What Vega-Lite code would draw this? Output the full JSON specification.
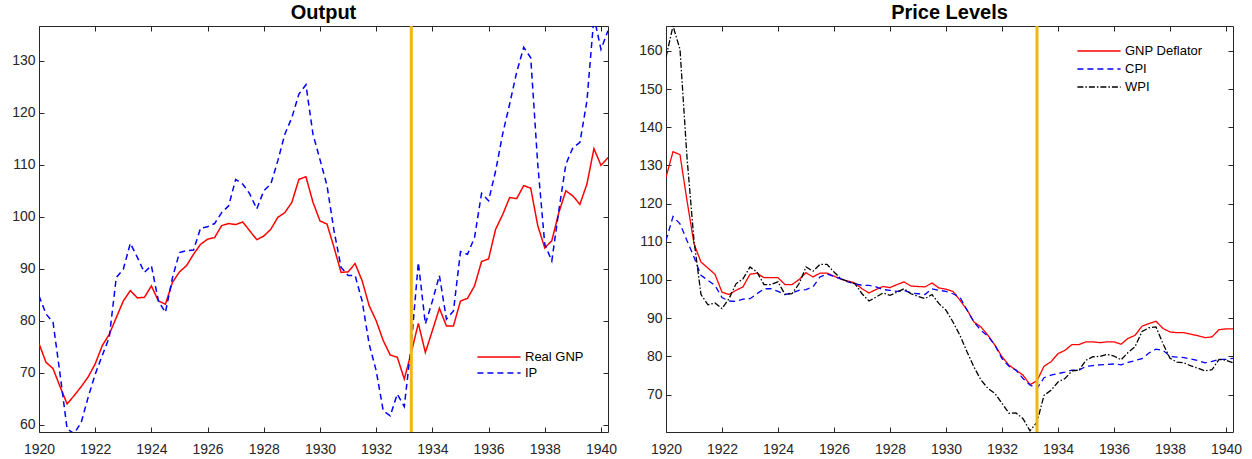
{
  "$schema": "https://vega.github.io/schema/vega-lite/v6.json",
  "padding": {"left": 8, "top": 2, "right": 5, "bottom": 0},
  "config": {
    "font": "Liberation Sans",
    "view": {"stroke": "#262626", "strokeWidth": 1},
    "axis": {"grid": false, "domain": false, "tickSize": -5, "tickColor": "#262626", "tickWidth": 1, "labelFontSize": 14, "labelColor": "#262626", "labelPadding": 9, "labelFlush": false, "title": null},
    "axisBottom": {"labelPadding": 15},
    "title": {"fontSize": 20, "fontWeight": "bold", "color": "#000000", "offset": 2, "font": "Liberation Sans"},
    "legend": {"title": null, "padding": 0, "labelFontSize": 13, "labelColor": "#000000", "symbolType": "M-3.6,0H3.6", "symbolSize": 144, "symbolStrokeWidth": 1.5, "labelOffset": 19}
  },
  "datasets": {
    "series": [
      {"t": 1920.00, "Real GNP": 75.6, "IP": 84.8, "GNP Deflator": 126.9, "CPI": 110.3, "WPI": 158.3},
      {"t": 1920.25, "Real GNP": 72.0, "IP": 81.3, "GNP Deflator": 133.6, "CPI": 116.6, "WPI": 166.5},
      {"t": 1920.50, "Real GNP": 70.8, "IP": 79.7, "GNP Deflator": 132.8, "CPI": 114.7, "WPI": 160.4},
      {"t": 1920.75, "Real GNP": 67.3, "IP": 69.7, "GNP Deflator": 120.8, "CPI": 110.3, "WPI": 132.1},
      {"t": 1921.00, "Real GNP": 64.0, "IP": 59.2, "GNP Deflator": 109.5, "CPI": 106.0, "WPI": 110.3},
      {"t": 1921.25, "Real GNP": 65.6, "IP": 58.3, "GNP Deflator": 104.7, "CPI": 101.2, "WPI": 96.2},
      {"t": 1921.50, "Real GNP": 67.3, "IP": 60.4, "GNP Deflator": 103.1, "CPI": 99.9, "WPI": 93.5},
      {"t": 1921.75, "Real GNP": 69.2, "IP": 65.3, "GNP Deflator": 101.5, "CPI": 98.6, "WPI": 94.0},
      {"t": 1922.00, "Real GNP": 71.7, "IP": 69.7, "GNP Deflator": 96.8, "CPI": 95.4, "WPI": 92.5},
      {"t": 1922.25, "Real GNP": 75.2, "IP": 73.3, "GNP Deflator": 96.2, "CPI": 94.5, "WPI": 95.1},
      {"t": 1922.50, "Real GNP": 77.4, "IP": 76.8, "GNP Deflator": 97.3, "CPI": 94.4, "WPI": 99.0},
      {"t": 1922.75, "Real GNP": 80.6, "IP": 88.3, "GNP Deflator": 98.2, "CPI": 95.0, "WPI": 100.3},
      {"t": 1923.00, "Real GNP": 83.8, "IP": 89.9, "GNP Deflator": 101.5, "CPI": 95.1, "WPI": 103.4},
      {"t": 1923.25, "Real GNP": 85.8, "IP": 94.9, "GNP Deflator": 101.8, "CPI": 96.4, "WPI": 102.1},
      {"t": 1923.50, "Real GNP": 84.4, "IP": 92.2, "GNP Deflator": 100.6, "CPI": 97.7, "WPI": 98.8},
      {"t": 1923.75, "Real GNP": 84.5, "IP": 89.3, "GNP Deflator": 100.6, "CPI": 97.7, "WPI": 98.8},
      {"t": 1924.00, "Real GNP": 86.7, "IP": 90.6, "GNP Deflator": 100.6, "CPI": 97.0, "WPI": 99.5},
      {"t": 1924.25, "Real GNP": 83.8, "IP": 83.8, "GNP Deflator": 98.8, "CPI": 96.2, "WPI": 96.2},
      {"t": 1924.50, "Real GNP": 83.2, "IP": 81.6, "GNP Deflator": 98.8, "CPI": 96.6, "WPI": 96.4},
      {"t": 1924.75, "Real GNP": 87.4, "IP": 88.3, "GNP Deflator": 100.1, "CPI": 97.3, "WPI": 99.0},
      {"t": 1925.00, "Real GNP": 89.4, "IP": 93.1, "GNP Deflator": 101.9, "CPI": 97.5, "WPI": 103.4},
      {"t": 1925.25, "Real GNP": 90.6, "IP": 93.5, "GNP Deflator": 100.8, "CPI": 98.2, "WPI": 102.3},
      {"t": 1925.50, "Real GNP": 92.8, "IP": 93.6, "GNP Deflator": 101.8, "CPI": 100.8, "WPI": 104.1},
      {"t": 1925.75, "Real GNP": 94.7, "IP": 97.8, "GNP Deflator": 101.8, "CPI": 101.6, "WPI": 104.1},
      {"t": 1926.00, "Real GNP": 95.7, "IP": 98.1, "GNP Deflator": 101.0, "CPI": 100.9, "WPI": 102.1},
      {"t": 1926.25, "Real GNP": 96.0, "IP": 98.7, "GNP Deflator": 100.2, "CPI": 100.3, "WPI": 100.3},
      {"t": 1926.50, "Real GNP": 98.3, "IP": 100.8, "GNP Deflator": 99.7, "CPI": 99.5, "WPI": 99.6},
      {"t": 1926.75, "Real GNP": 98.7, "IP": 102.1, "GNP Deflator": 99.2, "CPI": 99.0, "WPI": 99.0},
      {"t": 1927.00, "Real GNP": 98.5, "IP": 107.2, "GNP Deflator": 97.7, "CPI": 98.6, "WPI": 96.4},
      {"t": 1927.25, "Real GNP": 99.0, "IP": 106.3, "GNP Deflator": 96.6, "CPI": 98.6, "WPI": 94.5},
      {"t": 1927.50, "Real GNP": 97.3, "IP": 104.4, "GNP Deflator": 97.5, "CPI": 98.2, "WPI": 95.5},
      {"t": 1927.75, "Real GNP": 95.6, "IP": 101.5, "GNP Deflator": 98.3, "CPI": 97.5, "WPI": 96.6},
      {"t": 1928.00, "Real GNP": 96.3, "IP": 105.0, "GNP Deflator": 98.0, "CPI": 97.3, "WPI": 96.0},
      {"t": 1928.25, "Real GNP": 97.6, "IP": 106.3, "GNP Deflator": 98.8, "CPI": 97.0, "WPI": 96.8},
      {"t": 1928.50, "Real GNP": 99.9, "IP": 110.8, "GNP Deflator": 99.5, "CPI": 97.3, "WPI": 97.7},
      {"t": 1928.75, "Real GNP": 100.8, "IP": 115.9, "GNP Deflator": 98.4, "CPI": 96.6, "WPI": 96.4},
      {"t": 1929.00, "Real GNP": 102.8, "IP": 119.1, "GNP Deflator": 98.3, "CPI": 96.4, "WPI": 95.7},
      {"t": 1929.25, "Real GNP": 107.2, "IP": 123.6, "GNP Deflator": 98.2, "CPI": 96.2, "WPI": 95.1},
      {"t": 1929.50, "Real GNP": 107.7, "IP": 125.4, "GNP Deflator": 99.2, "CPI": 97.7, "WPI": 96.2},
      {"t": 1929.75, "Real GNP": 102.8, "IP": 115.9, "GNP Deflator": 97.9, "CPI": 97.3, "WPI": 93.8},
      {"t": 1930.00, "Real GNP": 99.2, "IP": 111.0, "GNP Deflator": 97.6, "CPI": 97.0, "WPI": 92.1},
      {"t": 1930.25, "Real GNP": 98.6, "IP": 106.0, "GNP Deflator": 97.0, "CPI": 96.4, "WPI": 89.0},
      {"t": 1930.50, "Real GNP": 94.1, "IP": 97.3, "GNP Deflator": 94.7, "CPI": 95.5, "WPI": 85.5},
      {"t": 1930.75, "Real GNP": 89.3, "IP": 90.3, "GNP Deflator": 92.2, "CPI": 92.1, "WPI": 81.2},
      {"t": 1931.00, "Real GNP": 89.4, "IP": 88.7, "GNP Deflator": 89.0, "CPI": 89.0, "WPI": 77.2},
      {"t": 1931.25, "Real GNP": 91.0, "IP": 88.7, "GNP Deflator": 87.7, "CPI": 86.8, "WPI": 73.8},
      {"t": 1931.50, "Real GNP": 87.7, "IP": 83.8, "GNP Deflator": 85.5, "CPI": 85.3, "WPI": 71.6},
      {"t": 1931.75, "Real GNP": 82.9, "IP": 75.5, "GNP Deflator": 82.9, "CPI": 82.9, "WPI": 70.3},
      {"t": 1932.00, "Real GNP": 80.0, "IP": 70.4, "GNP Deflator": 79.9, "CPI": 79.4, "WPI": 67.7},
      {"t": 1932.25, "Real GNP": 76.2, "IP": 62.7, "GNP Deflator": 77.7, "CPI": 77.4, "WPI": 65.1},
      {"t": 1932.50, "Real GNP": 73.4, "IP": 61.7, "GNP Deflator": 76.4, "CPI": 76.4, "WPI": 65.2},
      {"t": 1932.75, "Real GNP": 73.0, "IP": 65.9, "GNP Deflator": 75.1, "CPI": 74.2, "WPI": 63.7},
      {"t": 1933.00, "Real GNP": 68.8, "IP": 63.5, "GNP Deflator": 72.6, "CPI": 72.5, "WPI": 60.5},
      {"t": 1933.25, "Real GNP": 73.9, "IP": 75.5, "GNP Deflator": 73.6, "CPI": 71.6, "WPI": 62.8},
      {"t": 1933.50, "Real GNP": 79.5, "IP": 91.2, "GNP Deflator": 77.4, "CPI": 74.4, "WPI": 69.8},
      {"t": 1933.75, "Real GNP": 73.9, "IP": 79.4, "GNP Deflator": 78.6, "CPI": 75.1, "WPI": 71.1},
      {"t": 1934.00, "Real GNP": 78.1, "IP": 83.8, "GNP Deflator": 80.7, "CPI": 75.5, "WPI": 73.3},
      {"t": 1934.25, "Real GNP": 82.4, "IP": 88.7, "GNP Deflator": 81.6, "CPI": 75.9, "WPI": 74.2},
      {"t": 1934.50, "Real GNP": 79.0, "IP": 80.3, "GNP Deflator": 83.1, "CPI": 76.4, "WPI": 76.2},
      {"t": 1934.75, "Real GNP": 79.0, "IP": 81.9, "GNP Deflator": 83.1, "CPI": 76.4, "WPI": 76.4},
      {"t": 1935.00, "Real GNP": 83.8, "IP": 93.3, "GNP Deflator": 83.8, "CPI": 77.4, "WPI": 79.0},
      {"t": 1935.25, "Real GNP": 84.3, "IP": 92.8, "GNP Deflator": 83.8, "CPI": 77.6, "WPI": 79.9},
      {"t": 1935.50, "Real GNP": 86.7, "IP": 96.0, "GNP Deflator": 83.6, "CPI": 77.8, "WPI": 80.0},
      {"t": 1935.75, "Real GNP": 91.4, "IP": 104.5, "GNP Deflator": 83.8, "CPI": 77.9, "WPI": 80.5},
      {"t": 1936.00, "Real GNP": 91.9, "IP": 103.1, "GNP Deflator": 83.8, "CPI": 78.0, "WPI": 80.1},
      {"t": 1936.25, "Real GNP": 97.6, "IP": 108.8, "GNP Deflator": 83.2, "CPI": 77.8, "WPI": 79.1},
      {"t": 1936.50, "Real GNP": 100.4, "IP": 115.9, "GNP Deflator": 84.7, "CPI": 78.4, "WPI": 81.0},
      {"t": 1936.75, "Real GNP": 103.7, "IP": 121.7, "GNP Deflator": 85.5, "CPI": 78.9, "WPI": 82.5},
      {"t": 1937.00, "Real GNP": 103.5, "IP": 127.8, "GNP Deflator": 87.9, "CPI": 79.4, "WPI": 86.5},
      {"t": 1937.25, "Real GNP": 106.0, "IP": 132.6, "GNP Deflator": 88.6, "CPI": 80.9, "WPI": 87.5},
      {"t": 1937.50, "Real GNP": 105.5, "IP": 130.6, "GNP Deflator": 89.2, "CPI": 81.9, "WPI": 87.7},
      {"t": 1937.75, "Real GNP": 98.3, "IP": 110.1, "GNP Deflator": 87.3, "CPI": 81.6, "WPI": 83.3},
      {"t": 1938.00, "Real GNP": 94.0, "IP": 94.7, "GNP Deflator": 86.4, "CPI": 80.0, "WPI": 79.5},
      {"t": 1938.25, "Real GNP": 95.4, "IP": 91.5, "GNP Deflator": 86.2, "CPI": 79.8, "WPI": 78.5},
      {"t": 1938.50, "Real GNP": 100.8, "IP": 101.2, "GNP Deflator": 86.2, "CPI": 79.7, "WPI": 78.3},
      {"t": 1938.75, "Real GNP": 105.0, "IP": 110.1, "GNP Deflator": 85.8, "CPI": 79.3, "WPI": 77.5},
      {"t": 1939.00, "Real GNP": 104.0, "IP": 113.3, "GNP Deflator": 85.4, "CPI": 78.9, "WPI": 76.9},
      {"t": 1939.25, "Real GNP": 102.4, "IP": 114.3, "GNP Deflator": 84.9, "CPI": 78.3, "WPI": 76.2},
      {"t": 1939.50, "Real GNP": 106.3, "IP": 122.3, "GNP Deflator": 85.1, "CPI": 78.7, "WPI": 76.5},
      {"t": 1939.75, "Real GNP": 113.1, "IP": 138.5, "GNP Deflator": 87.0, "CPI": 79.2, "WPI": 79.2},
      {"t": 1940.00, "Real GNP": 109.9, "IP": 132.2, "GNP Deflator": 87.2, "CPI": 79.2, "WPI": 79.0},
      {"t": 1940.25, "Real GNP": 111.4, "IP": 135.8, "GNP Deflator": 87.2, "CPI": 79.5, "WPI": 78.3}
    ],
    "marker": [{"t": 1933.25}]
  },
  "spacing": 13,
  "resolve": {"scale": {"color": "independent", "strokeDash": "independent"}, "legend": {"color": "independent", "strokeDash": "independent"}},
  "hconcat": [
    {
      "title": "Output",
      "width": 569,
      "height": 406,
      "data": {"name": "series"},
      "transform": [{"fold": ["Real GNP", "IP"], "as": ["series", "value"]}],
      "layer": [
        {
          "mark": {"type": "line", "strokeWidth": 1.5, "clip": true},
          "encoding": {
            "x": {"field": "t", "type": "quantitative", "scale": {"domain": [1920, 1940.25], "nice": false, "zero": false},
                  "axis": {"orient": "bottom", "values": [1920, 1922, 1924, 1926, 1928, 1930, 1932, 1934, 1936, 1938, 1940], "format": "d"}},
            "y": {"field": "value", "type": "quantitative", "scale": {"domain": [58.6, 136.7], "nice": false, "zero": false},
                  "axis": {"orient": "left", "values": [60, 70, 80, 90, 100, 110, 120, 130], "minExtent": 30, "maxExtent": 30}},
            "color": {"field": "series", "type": "nominal", "scale": {"domain": ["Real GNP", "IP"], "range": ["#ff0000", "#0000ff"]},
                      "legend": {"orient": "none", "legendX": 453, "legendY": 324, "rowPadding": 2}},
            "strokeDash": {"field": "series", "type": "nominal", "scale": {"domain": ["Real GNP", "IP"], "range": [[1, 0], [6, 4]]},
                           "legend": {"orient": "none", "legendX": 453, "legendY": 324, "rowPadding": 2}}
          }
        },
        {
          "mark": {"type": "point", "opacity": 0, "clip": true},
          "encoding": {
            "x": {"field": "t", "type": "quantitative", "axis": {"orient": "top", "labels": false, "values": [1920, 1922, 1924, 1926, 1928, 1930, 1932, 1934, 1936, 1938, 1940], "maxExtent": 0}},
            "y": {"field": "value", "type": "quantitative", "axis": {"orient": "right", "labels": false, "values": [60, 70, 80, 90, 100, 110, 120, 130], "maxExtent": 0, "minExtent": 0}}
          }
        },
        {
          "data": {"name": "marker"},
          "mark": {"type": "rule", "color": "#EBB815", "strokeWidth": 3},
          "encoding": {"x": {"field": "t", "type": "quantitative", "axis": null}}
        }
      ],
      "resolve": {"axis": {"x": "independent", "y": "independent"}}
    },
    {
      "title": "Price Levels",
      "width": 567,
      "height": 406,
      "data": {"name": "series"},
      "transform": [{"fold": ["GNP Deflator", "CPI", "WPI"], "as": ["series", "value"]}],
      "layer": [
        {
          "mark": {"type": "line", "strokeWidth": 1.3, "clip": true},
          "encoding": {
            "x": {"field": "t", "type": "quantitative", "scale": {"domain": [1920, 1940.25], "nice": false, "zero": false},
                  "axis": {"orient": "bottom", "values": [1920, 1922, 1924, 1926, 1928, 1930, 1932, 1934, 1936, 1938, 1940], "format": "d"}},
            "y": {"field": "value", "type": "quantitative", "scale": {"domain": [60.2, 166.5], "nice": false, "zero": false},
                  "axis": {"orient": "left", "values": [70, 80, 90, 100, 110, 120, 130, 140, 150, 160], "minExtent": 34, "maxExtent": 34}},
            "color": {"field": "series", "type": "nominal", "scale": {"domain": ["GNP Deflator", "CPI", "WPI"], "range": ["#ff0000", "#0000ff", "#000000"]},
                      "legend": {"orient": "none", "legendX": 426, "legendY": 18, "rowPadding": 4}},
            "strokeDash": {"field": "series", "type": "nominal", "scale": {"domain": ["GNP Deflator", "CPI", "WPI"], "range": [[1, 0], [6, 4], [6, 2, 1.5, 2]]},
                           "legend": {"orient": "none", "legendX": 426, "legendY": 18, "rowPadding": 4}}
          }
        },
        {
          "mark": {"type": "point", "opacity": 0, "clip": true},
          "encoding": {
            "x": {"field": "t", "type": "quantitative", "axis": {"orient": "top", "labels": false, "values": [1920, 1922, 1924, 1926, 1928, 1930, 1932, 1934, 1936, 1938, 1940], "maxExtent": 0}},
            "y": {"field": "value", "type": "quantitative", "axis": {"orient": "right", "labels": false, "values": [70, 80, 90, 100, 110, 120, 130, 140, 150, 160], "maxExtent": 0, "minExtent": 0}}
          }
        },
        {
          "data": {"name": "marker"},
          "mark": {"type": "rule", "color": "#EBB815", "strokeWidth": 3},
          "encoding": {"x": {"field": "t", "type": "quantitative", "axis": null}}
        }
      ],
      "resolve": {"axis": {"x": "independent", "y": "independent"}}
    }
  ]
}
